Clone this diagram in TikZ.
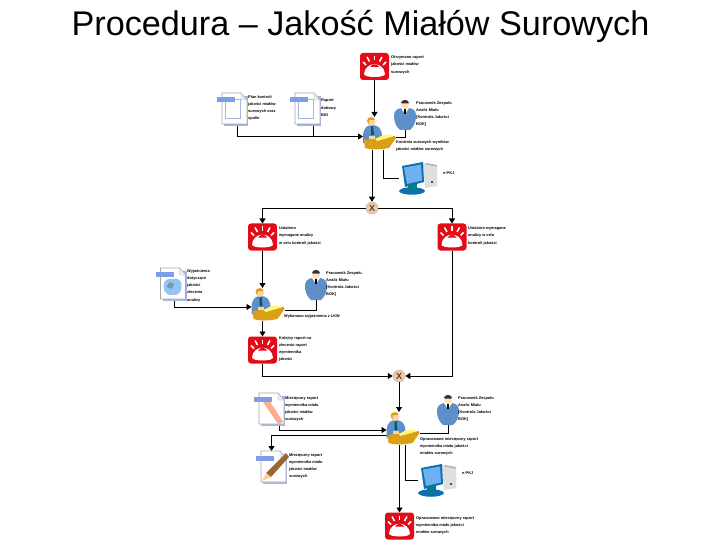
\documentclass[tikz,border=0pt]{standalone}
\usepackage{fontspec}
\setmainfont{Liberation Sans}
\usetikzlibrary{arrows.meta}
\definecolor{bellred}{HTML}{E30B17}
\definecolor{suit}{HTML}{5F8FC8}
\definecolor{lav}{HTML}{A9B4E6}
\definecolor{barblue}{HTML}{7F9CE8}
\definecolor{gold}{HTML}{D9A015}
\definecolor{monblue}{HTML}{6FB0F0}
\definecolor{monedge}{HTML}{0B6FB0}
\tikzset{
 x=1pt,y=-1pt,
 iconbox/.style={inner sep=0,outer sep=0,minimum width=#1},
 gate/.style={circle,inner sep=0,minimum size=12pt,draw=brown!60,line width=.5pt,fill=brown!40!white,text=brown!50!black,font=\fontsize{9}{9}\selectfont\bfseries},
 lbl/.style={anchor=north west,inner sep=0,align=left,font=\fontsize{3.9}{7.3}\selectfont\bfseries},
 conn/.style={draw=black,line width=0.9pt},
 arr/.style={conn,-{Triangle[length=5pt,width=6pt]}},
 bell/.pic={
  \fill[bellred,rounded corners=3pt] (0,0) rectangle (29,27);
  \fill[white] (4,21) .. controls (5,8) and (24,8) .. (25,21) .. controls (25,25) and (4,25) .. (4,21) -- cycle;
  \fill[bellred] (10,14) .. controls (12,10.5) and (17,10.5) .. (19,14) -- cycle;
  \foreach \a/\b/\c/\d in {14.5/3/14.5/7.5, 7/4/9.5/8.5, 22/4/19.5/8.5, 3/9/6/12, 26/9/23/12}
   \draw[white,line width=1.5pt] (\a,\b) -- (\c,\d);
 },
 docbase/.pic={
  \fill[lav] (7,3) -- (31,3) -- (31,33) -- (7,33) -- cycle;
  \fill[white,draw=gray!70,line width=.6pt] (5,0) -- (24,0) -- (30,7) -- (30,31) -- (5,31) -- cycle;
  \draw[gray!60,line width=.4pt,fill=gray!15] (24,0) -- (24,7) -- (30,7) -- cycle;
 },
 docplain/.pic={
  \pic at (0,0) {docbase};
  \draw[lav,line width=.9pt] (8,6) rectangle (23,25);
  \fill[barblue] (0,4) rectangle (18,9);
 },
 docweb/.pic={
  \pic at (0,0) {docbase};
  \fill[monblue!75!white] (8,18) .. controls (8,12) and (13,10) .. (17,11) .. controls (22,9) and (27,13) .. (26,18) .. controls (27,24) and (22,28) .. (17,27) .. controls (12,28) and (8,24) .. (8,18) -- cycle;
  \fill[gray!50!monblue] (14,14) -- (19,16) -- (16,21) -- (11,19) -- cycle;
  \fill[barblue] (0,4) rectangle (18,9);
 },
 docpink/.pic={
  \pic at (0,0) {docbase};
  \fill[red!45!orange!45!white] (9,9) -- (15,7) -- (29,29) -- (24,31) -- cycle;
  \fill[barblue] (0,4) rectangle (18,9);
 },
 docpencil/.pic={
  \pic at (0,0) {docbase};
  \fill[brown!80!black] (30,2) -- (33,6) -- (15,26) -- (10,22) -- cycle;
  \fill[orange!40!white] (10,22) -- (15,26) -- (6,30) -- cycle;
  \fill[barblue] (0,5) rectangle (18,10);
 },
 person/.pic={
  \fill[suit] (0,16) .. controls (0,11) and (5,9) .. (8,9) -- (14,9) .. controls (18,9) and (22,11) .. (22,16) .. controls (22,25) and (19,28) .. (16,31) -- (6,31) .. controls (3,28) and (0,25) .. (0,16) -- cycle;
  \fill[white] (7,9) -- (15,9) -- (11,15) -- cycle;
  \fill[black] (10,10) rectangle (12,15);
  \fill[orange!25!white] (11,6) circle (4);
  \fill[black!80] (7,4) .. controls (7,0) and (15,0) .. (15,4) -- (14,4.5) -- (8,4.5) -- cycle;
 },
 task/.pic={
  \fill[suit] (0,20) .. controls (0,10) and (5,8) .. (9,8) .. controls (15,8) and (19,11) .. (19,20) -- (19,26) -- (0,26) -- cycle;
  \fill[teal!70!black] (8,9) -- (10,9) -- (11,18) -- (8,18) -- cycle;
  \fill[orange!35!white] (8.5,5) circle (4);
  \fill[gold] (4,4) .. controls (4,-1) and (12,-1) .. (12,3) -- (6,3) -- (6,7) -- cycle;
  \fill[gold] (1,23) -- (32,19) -- (33,21) -- (26,31) .. controls (16,33) and (8,33) .. (2,31) -- cycle;
  \fill[yellow!55!white] (12,22) -- (19,18.5) -- (28,17.5) -- (30,19.5) -- (14,24) -- cycle;
  \fill[orange!35!white] (6,19) rectangle (12,22);
 },
 computer/.pic={
  \fill[gray!25] (24,2) -- (38,5) -- (38,24) -- (26,26) -- cycle;
  \fill[gray!55] (24,2) -- (28,1) -- (38,3) -- (38,5) -- cycle;
  \fill[green!50!black] (32,19) rectangle (34,21);
  \fill[monedge] (0,29) .. controls (2,24) and (24,24) .. (26,29) .. controls (24,34) and (2,34) .. (0,29) -- cycle;
  \fill[teal!70!monedge] (9,21) rectangle (18,29);
  \fill[monedge] (3,4) -- (24,0) -- (25,20) -- (6,25) -- cycle;
  \fill[monblue] (5,5.5) -- (22,2.5) -- (23,18.5) -- (8,22) -- cycle;
 }
}
\begin{document}
\begin{tikzpicture}
\useasboundingbox[fill=white] (0,0) rectangle (720,540);
\node[font=\fontsize{34.2}{36}\selectfont] (title) at (360.5,26) {Procedura – Jakość Miałów Surowych};

% icon frames
\node[iconbox=29pt,minimum height=27pt] (b1) at (374.5,66.5) {};
\node[iconbox=31pt,minimum height=33pt] (d1) at (232.5,109.5) {};
\node[iconbox=31pt,minimum height=33pt] (d2) at (305.5,109.5) {};
\node[iconbox=22pt,minimum height=31pt] (p1) at (405,114.5) {};
\node[iconbox=33pt,minimum height=33pt] (t1) at (379.5,133.5) {};
\node[iconbox=38pt,minimum height=33pt] (c1) at (418,178.5) {};
\node[gate] (g1) at (372,208) {X};
\node[iconbox=29pt,minimum height=27pt] (b2) at (262.5,237) {};
\node[iconbox=29pt,minimum height=27pt] (b3) at (452,237) {};
\node[iconbox=31pt,minimum height=33pt] (d3) at (171,284.5) {};
\node[iconbox=22pt,minimum height=31pt] (p2) at (316,284.5) {};
\node[iconbox=33pt,minimum height=33pt] (t2) at (268,304.5) {};
\node[iconbox=29pt,minimum height=27pt] (b4) at (262.5,350) {};
\node[gate] (g2) at (399,376) {X};
\node[iconbox=31pt,minimum height=33pt] (d4) at (269.5,409.5) {};
\node[iconbox=22pt,minimum height=31pt] (p3) at (448,409.5) {};
\node[iconbox=33pt,minimum height=33pt] (t3) at (403,428.5) {};
\node[iconbox=31pt,minimum height=33pt] (d5) at (271.5,467.5) {};
\node[iconbox=38pt,minimum height=33pt] (c2) at (437,480.5) {};
\node[iconbox=29pt,minimum height=27pt] (b5) at (399.5,526) {};

% connectors
\draw[arr] (b1.south) -- (b1.south |- t1.north);
\draw[arr] ([xshift=4.5pt]d1.south) |- ([yshift=-3pt]t1.west);
\draw[conn] ([xshift=8pt]d2.south) -- ([xshift=8pt,yshift=-10pt]d2.south);
\draw[conn] (p1.south) |- ([yshift=-4pt]t1.east);
\draw[arr] (g1.north |- t1.south) -- (g1.north);
\draw[conn] ([xshift=3.5pt]t1.south) |- (c1.west);
\draw[arr] (g1.west) -| (b2.north);
\draw[arr] (g1.east) -| (b3.north);
\draw[arr] (b2.south) -- (b2.south |- t2.north);
\draw[arr] ([xshift=3pt]d3.south) |- ([yshift=-2.5pt]t2.west);
\draw[conn] (p2.south) |- ([yshift=-5.5pt]t2.east);
\draw[arr] (b2.south |- t2.south) -- (b4.north);
\draw[arr] (b4.south) |- (g2.west);
\draw[arr] (b3.south) |- (g2.east);
\draw[arr] (g2.south) -- (g2.south |- t3.north);
\draw[arr] ([xshift=9.5pt]d4.south) |- ([yshift=-1.5pt]t3.west);
\draw[arr] ([yshift=-6.5pt]t3.west) -| (d5.north);
\draw[conn] (p3.south) |- ([yshift=-4.5pt]t3.east);
\draw[arr] (b5.north |- t3.south) -- (b5.north);
\draw[conn] ([xshift=2pt]t3.south) |- (c2.west);

% icons
\pic at (b1.north west) {bell};
\pic at (b2.north west) {bell};
\pic at (b3.north west) {bell};
\pic at (b4.north west) {bell};
\pic at (b5.north west) {bell};
\pic at (d1.north west) {docplain};
\pic at (d2.north west) {docplain};
\pic at (d3.north west) {docweb};
\pic at (d4.north west) {docpink};
\pic at (d5.north west) {docpencil};
\pic at (p1.north west) {person};
\pic at (p2.north west) {person};
\pic at (p3.north west) {person};
\pic at (t1.north west) {task};
\pic at (t2.north west) {task};
\pic at (t3.north west) {task};
\pic at (c1.north west) {computer};
\pic at (c2.north west) {computer};

% labels
\node[lbl] (l1) at (391,55.5) {Otrzymano raport\\jakości miałów\\surowych};
\node[lbl] (l2) at (248,95) {Plan kontroli\\jakości miałów\\surowych oraz\\spalin};
\node[lbl] (l3) at (321,99) {Raport\\dobowy\\BIO};
\node[lbl] (l4) at (416,101) {Pracownik Zespołu\\Analiz Miału\\{[}Kontrola Jakości\\BOK{]}};
\node[lbl] (l5) at (396,140) {Kontrola surowych wyników\\jakości miałów surowych};
\node[lbl] (l6) at (443,172) {e-PKJ};
\node[lbl] (l7) at (279,226.5) {Ustalono\\wymagane analizy\\w celu kontroli jakości};
\node[lbl] (l8) at (468,226.5) {Ustalono wymagane\\analizy w celu\\kontroli jakości};
\node[lbl] (l9) at (187,269) {Wyjaśnienia\\dotyczące\\jakości\\zlecenia\\analizy};
\node[lbl] (l10) at (326,271) {Pracownik Zespołu\\Analiz Miału\\{[}Kontrola Jakości\\BOK{]}};
\node[lbl] (l11) at (284,314) {Wykonano wyjaśnienia z LKW};
\node[lbl] (l12) at (279,336) {Kolejny raport na\\zleceniu raport\\wymiennika\\jakości};
\node[lbl] (l13) at (285,396) {Miesięczny raport\\wymiennika miału\\jakości miałów\\surowych};
\node[lbl] (l14) at (458,396) {Pracownik Zespołu\\Analiz Miału\\{[}Kontrola Jakości\\BOK{]}};
\node[lbl] (l15) at (420,437) {Opracowano miesięczny raport\\wymiennika miału jakości\\miałów surowych};
\node[lbl] (l16) at (289,453) {Miesięczny raport\\wymiennika miału\\jakości miałów\\surowych};
\node[lbl] (l17) at (462,472) {e-PKJ};
\node[lbl] (l18) at (416,516) {Opracowano miesięczny raport\\wymiennika miału jakości\\miałów surowych};
\end{tikzpicture}
\end{document}
